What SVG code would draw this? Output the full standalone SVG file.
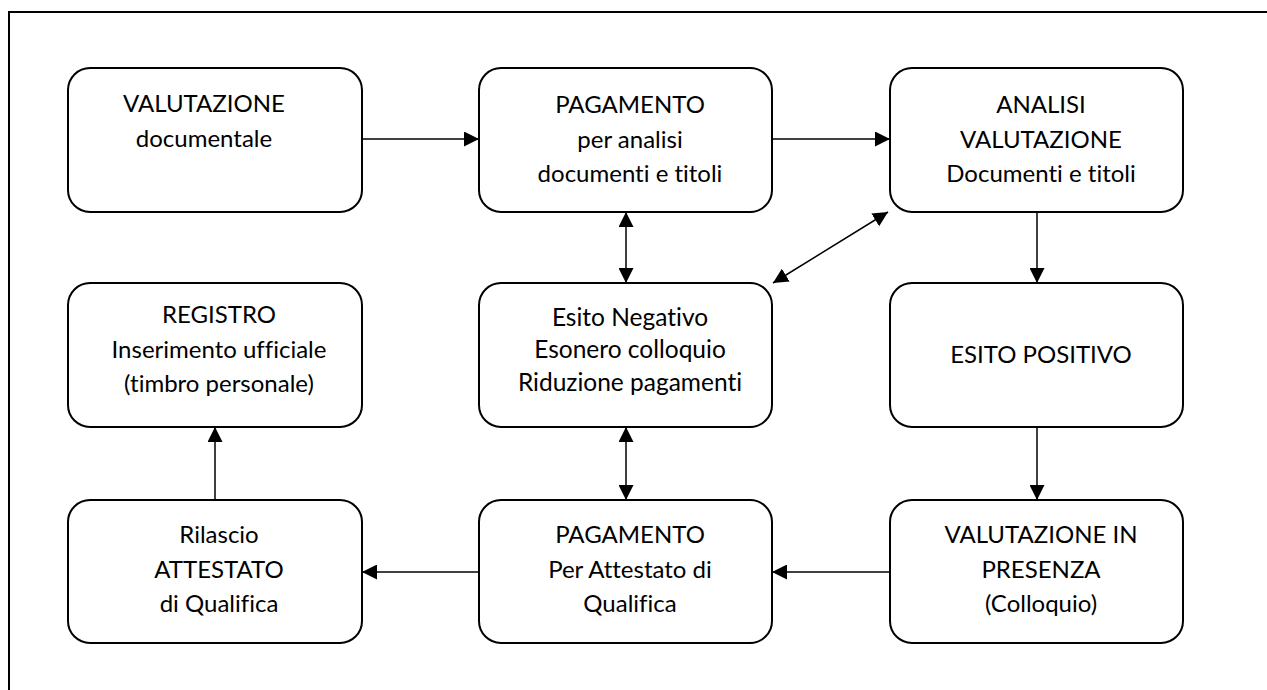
<svg xmlns="http://www.w3.org/2000/svg" width="1267" height="690" viewBox="0 0 1267 690">
<style>
.box{fill:#fff;stroke:#000;stroke-width:2}
.t{font-family:Lato,"Liberation Sans",sans-serif;font-size:24px;fill:#000;text-anchor:middle;font-variant-ligatures:none;font-feature-settings:"liga" 0}
.s{font-size:24.5px}
.c{stroke:#000;stroke-width:1.5;fill:none}
</style>
<defs>
<marker id="ah" markerUnits="userSpaceOnUse" markerWidth="15" markerHeight="15" refX="15" refY="7.5" orient="auto-start-reverse" viewBox="0 0 15 15">
<path d="M0,0 L15,7.5 L0,15 z" fill="#000"/>
</marker>
</defs>
<rect x="9" y="12" width="1300" height="700" fill="none" stroke="#000" stroke-width="2"/>
<g id="connectors">
<line class="c" x1="362" y1="139" x2="479" y2="139" marker-end="url(#ah)"/>
<line class="c" x1="772" y1="139" x2="890" y2="139" marker-end="url(#ah)"/>
<line class="c" x1="626" y1="212" x2="626" y2="283" marker-start="url(#ah)" marker-end="url(#ah)"/>
<line class="c" x1="773" y1="283" x2="888" y2="212" marker-start="url(#ah)" marker-end="url(#ah)"/>
<line class="c" x1="626" y1="427" x2="626" y2="500" marker-start="url(#ah)" marker-end="url(#ah)"/>
<line class="c" x1="1037" y1="212" x2="1037" y2="283" marker-end="url(#ah)"/>
<line class="c" x1="1037" y1="427" x2="1037" y2="500" marker-end="url(#ah)"/>
<line class="c" x1="890" y1="572" x2="772" y2="572" marker-end="url(#ah)"/>
<line class="c" x1="479" y1="572" x2="362" y2="572" marker-end="url(#ah)"/>
<line class="c" x1="215" y1="500" x2="215" y2="427" marker-end="url(#ah)"/>
</g>
<g id="n1">
<rect class="box" x="68" y="68" width="294" height="144" rx="22"/>
<text class="t" x="204" y="112">VALUTAZIONE</text>
<text class="t" x="204" y="147">documentale</text>
</g>
<g id="n2">
<rect class="box" x="479" y="68" width="293" height="144" rx="22"/>
<text class="t" x="630" y="113">PAGAMENTO</text>
<text class="t" x="630" y="148">per analisi</text>
<text class="t" x="630" y="182">documenti e titoli</text>
</g>
<g id="n3">
<rect class="box" x="890" y="68" width="293" height="144" rx="22"/>
<text class="t" x="1041" y="113">ANALISI</text>
<text class="t" x="1041" y="148">VALUTAZIONE</text>
<text class="t" x="1041" y="182">Documenti e titoli</text>
</g>
<g id="n4">
<rect class="box" x="68" y="283" width="294" height="144" rx="22"/>
<text class="t" x="219" y="323">REGISTRO</text>
<text class="t" x="219" y="358">Inserimento ufficiale</text>
<text class="t" x="219" y="392">(timbro personale)</text>
</g>
<g id="n5">
<rect class="box" x="479" y="283" width="293" height="144" rx="22"/>
<text class="t s" x="630" y="326">Esito Negativo</text>
<text class="t s" x="630" y="358">Esonero colloquio</text>
<text class="t s" x="630" y="391">Riduzione pagamenti</text>
</g>
<g id="n6">
<rect class="box" x="890" y="283" width="293" height="144" rx="22"/>
<text class="t" x="1041" y="363">ESITO POSITIVO</text>
</g>
<g id="n7">
<rect class="box" x="68" y="500" width="294" height="143" rx="22"/>
<text class="t" x="219" y="543">Rilascio</text>
<text class="t" x="219" y="578">ATTESTATO</text>
<text class="t" x="219" y="612">di Qualifica</text>
</g>
<g id="n8">
<rect class="box" x="479" y="500" width="293" height="143" rx="22"/>
<text class="t" x="630" y="543">PAGAMENTO</text>
<text class="t" x="630" y="578">Per Attestato di</text>
<text class="t" x="630" y="612">Qualifica</text>
</g>
<g id="n9">
<rect class="box" x="890" y="500" width="293" height="143" rx="22"/>
<text class="t" x="1041" y="543">VALUTAZIONE IN</text>
<text class="t" x="1041" y="578">PRESENZA</text>
<text class="t" x="1041" y="612">(Colloquio)</text>
</g>
</svg>
